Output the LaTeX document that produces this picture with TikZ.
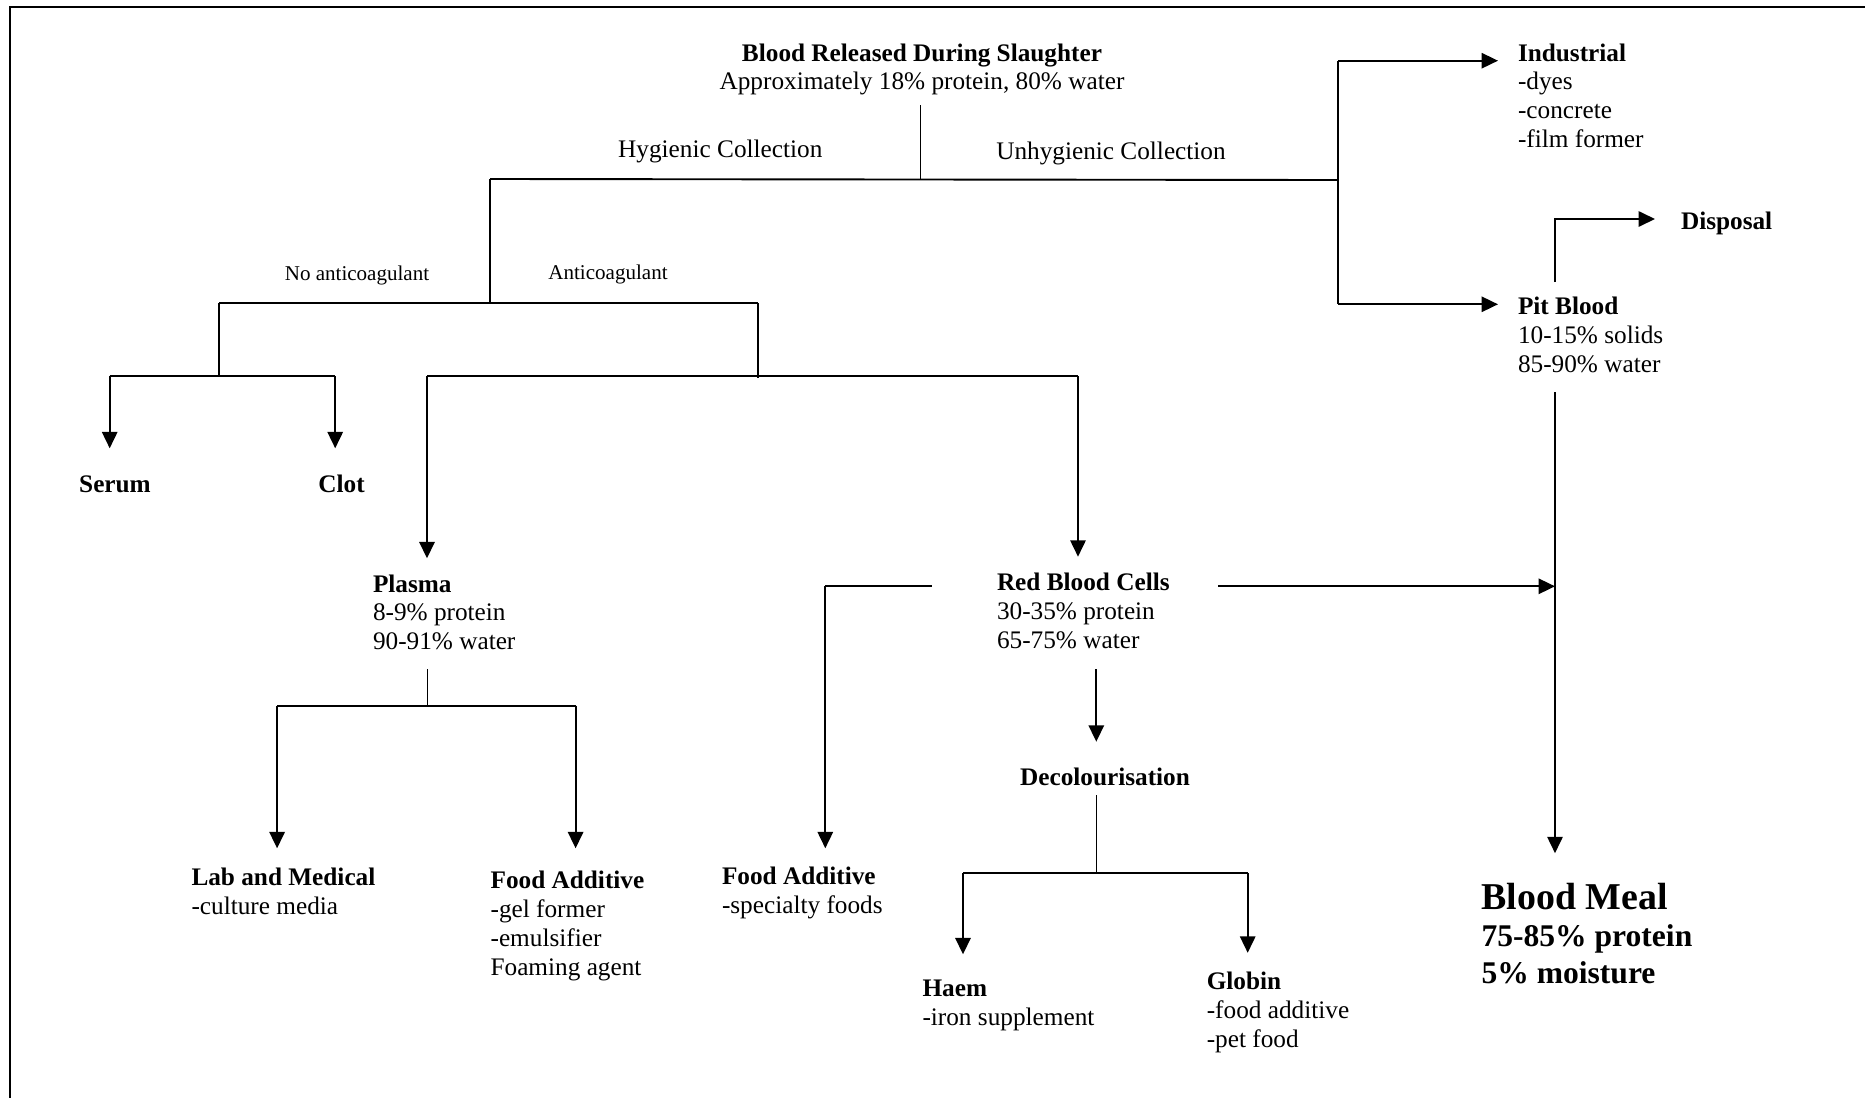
\documentclass[tikz,border=0pt]{standalone}
\usepackage{fontspec}
\setmainfont{Liberation Serif}
\usetikzlibrary{arrows.meta}
\begin{document}
\begin{tikzpicture}[x=0.475pt,y=-0.475pt,
  ln/.style={line width=0.9pt},
  thinln/.style={line width=0.75pt},
  arr/.style={ln,-{Triangle[length=7.8pt,width=7.3pt]}},
  txt/.style={inner sep=0pt,outer sep=0pt,font=\fontsize{12}{13.75}\selectfont,align=left,anchor=north west},
  lbl/.style={inner sep=0pt,outer sep=0pt,font=\fontsize{12}{13.75}\selectfont,anchor=base},
  smalllbl/.style={inner sep=0pt,outer sep=0pt,font=\fontsize{10}{12}\selectfont,anchor=base},
  bigA/.style={inner sep=0pt,outer sep=0pt,font=\fontsize{18}{20}\selectfont\bfseries,anchor=base west},
  bigB/.style={inner sep=0pt,outer sep=0pt,font=\fontsize{15}{18}\selectfont\bfseries,anchor=base west}
]
\useasboundingbox (0,0) rectangle (1865,1098);
% frame
\draw[line width=0.95pt] (10,1098) -- (10,7) -- (1865,7);

% ---------- texts ----------
\node[txt,align=center,anchor=north] (title) at (922,43.5)
  {\textbf{Blood Released During Slaughter}\\Approximately 18\% protein, 80\% water};
\node[lbl] (hyg) at (720.3,157.5) {Hygienic Collection};
\node[lbl] (unhyg) at (1111,159.3) {Unhygienic Collection};
\node[txt] (ind) at (1518,43.5) {\textbf{Industrial}\\-dyes\\-concrete\\-film former};
\node[txt] (pit) at (1518,297.3) {\textbf{Pit Blood}\\10-15\% solids\\85-90\% water};
\node[lbl,anchor=base west] (disp) at (1681,229.5) {\textbf{Disposal}};
\node[smalllbl] (noac) at (357,280.3) {No anticoagulant};
\node[smalllbl] (ac) at (608,279) {Anticoagulant};
\node[lbl] (serum) at (115,492) {\textbf{Serum}};
\node[lbl] (clot) at (341.6,492) {\textbf{Clot}};
\node[txt] (plasma) at (373,574.5) {\textbf{Plasma}\\8-9\% protein\\90-91\% water};
\node[txt] (rbc) at (997,572.8) {\textbf{Red Blood Cells}\\30-35\% protein\\65-75\% water};
\node[txt] (lab) at (191.5,867.6) {\textbf{Lab and Medical}\\-culture media};
\node[txt] (fa1) at (490.6,871.4) {\textbf{Food Additive}\\-gel former\\-emulsifier\\Foaming agent};
\node[txt] (fa2) at (722,867.4) {\textbf{Food Additive}\\-specialty foods};
\node[lbl] (decol) at (1105,785) {\textbf{Decolourisation}};
\node[txt] (haem) at (922.5,979.7) {\textbf{Haem}\\-iron supplement};
\node[txt] (globin) at (1206.8,971.8) {\textbf{Globin}\\-food additive\\-pet food};
\node[bigA] (bm) at (1481.5,909) {Blood Meal};
\node[bigB] (bm2) at (1481.5,946) {75-85\% protein};
\node[bigB] (bm3) at (1481.5,983.5) {5\% moisture};

% ---------- junction coordinates ----------
\coordinate (t0) at (920.5,105);
\coordinate (t1) at (920.5,179);
\coordinate (hL) at (490,179);
\coordinate (hR) at (1338,180);
\coordinate (rTop) at (1338,60.7);
\coordinate (rBot) at (1338,304.3);
\coordinate (indTip) at (1498,60.7);
\coordinate (pitTip) at (1498,304.3);
\coordinate (d0) at (1555,282);
\coordinate (d1) at (1555,219);
\coordinate (dTip) at (1655,219);
\coordinate (bm0) at (1555,392);
\coordinate (bmTip) at (1555,853.2);
\coordinate (rbcR) at (1218,586.3);
\coordinate (rbcRTip) at (1555,586.3);
\coordinate (a0) at (490,303);
\coordinate (aL) at (219.4,303);
\coordinate (aR) at (757.6,303);
\coordinate (aL1) at (219.4,377);
\coordinate (aR1) at (757.6,378);
\coordinate (scL) at (109.7,376);
\coordinate (scR) at (335.2,376);
\coordinate (serumTip) at (109.7,448.3);
\coordinate (clotTip) at (335.2,448.3);
\coordinate (bbL) at (427,376);
\coordinate (bbR) at (1078,376);
\coordinate (plasmaTip) at (427,558.3);
\coordinate (rbcTip) at (1078,556.7);
\coordinate (p0) at (427.5,669.3);
\coordinate (p1) at (427.5,705.7);
\coordinate (pL) at (277.1,705.7);
\coordinate (pR) at (575.6,705.7);
\coordinate (labTip) at (277.1,848.3);
\coordinate (fa1Tip) at (575.6,848.3);
\coordinate (rbcL) at (931.5,586);
\coordinate (rbcL1) at (825.3,586);
\coordinate (fa2Tip) at (825.3,848.3);
\coordinate (dc0) at (1096.3,669.3);
\coordinate (dcTip) at (1096.3,741.7);
\coordinate (dc1) at (1096.3,795);
\coordinate (dc2) at (1096.3,873.3);
\coordinate (dcL) at (963,873.3);
\coordinate (dcR) at (1247.7,873.3);
\coordinate (haemTip) at (963,954.3);
\coordinate (globinTip) at (1247.7,952.8);

% ---------- connectors ----------
\draw[thinln] (t0) -- (t1);
\draw[ln] (hL) -- (hR);
\draw[ln] (rTop) -- (rBot);
\draw[arr] (rTop) -- (indTip);
\draw[arr] (rBot) -- (pitTip);
\draw[arr] (d0) -- (d1) -- (dTip);
\draw[arr] (bm0) -- (bmTip);
\draw[arr] (rbcR) -- (rbcRTip);
\draw[ln] (hL) -- (a0);
\draw[ln] (aL) -- (aR);
\draw[ln] (aL) -- (aL1);
\draw[ln] (aR) -- (aR1);
\draw[ln] (scL) -- (scR);
\draw[arr] (scL) -- (serumTip);
\draw[arr] (scR) -- (clotTip);
\draw[ln] (bbL) -- (bbR);
\draw[arr] (bbL) -- (plasmaTip);
\draw[arr] (bbR) -- (rbcTip);
\draw[thinln] (p0) -- (p1);
\draw[ln] (pL) -- (pR);
\draw[arr] (pL) -- (labTip);
\draw[arr] (pR) -- (fa1Tip);
\draw[ln] (rbcL) -- (rbcL1);
\draw[arr] (rbcL1) -- (fa2Tip);
\draw[arr] (dc0) -- (dcTip);
\draw[thinln] (dc1) -- (dc2);
\draw[ln] (dcL) -- (dcR);
\draw[arr] (dcL) -- (haemTip);
\draw[arr] (dcR) -- (globinTip);
\end{tikzpicture}
\end{document}
